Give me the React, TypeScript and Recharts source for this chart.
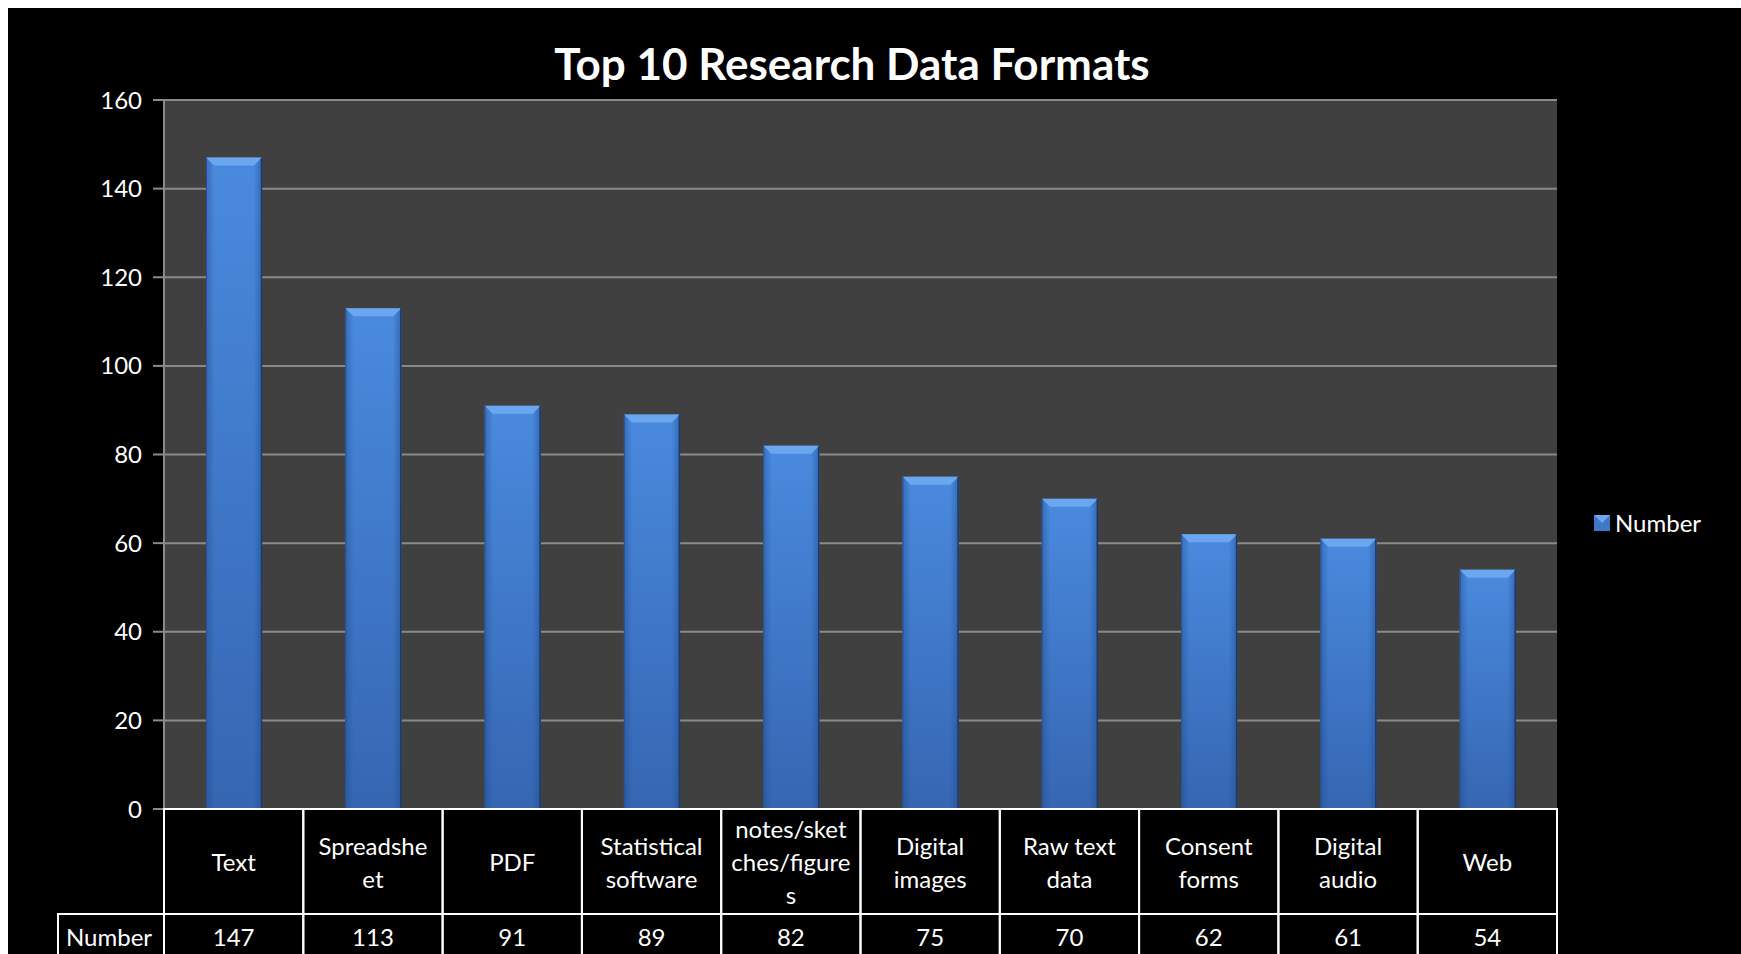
import { BarChart, Bar, XAxis, YAxis, CartesianGrid } from "recharts";

const categories = [
  "Text",
  "Spreadsheet",
  "PDF",
  "Statistical software",
  "notes/sketches/figures",
  "Digital images",
  "Raw text data",
  "Consent forms",
  "Digital audio",
  "Web",
];
// labels as they wrap inside the data table cells
const tickLines = [
  ["Text"],
  ["Spreadshe", "et"],
  ["PDF"],
  ["Statistical", "software"],
  ["notes/sket", "ches/figure", "s"],
  ["Digital", "images"],
  ["Raw text", "data"],
  ["Consent", "forms"],
  ["Digital", "audio"],
  ["Web"],
];
const values = [147, 113, 91, 89, 82, 75, 70, 62, 61, 54];
const yTicks = [0, 20, 40, 60, 80, 100, 120, 140, 160];
const seriesName = "Number";

const data = categories.map((name, i) => ({ name, value: values[i] }));

const W = 1733;
const H = 946;
const M = { top: 92, right: 184, left: 0, bottom: 0 };
const Y_W = 156;
const X_H = 145;
const PLOT_BOTTOM = H - X_H;
const BAND = (W - M.right - Y_W) / categories.length;
const ROW1 = 105;
const FONT = "Lato, 'Open Sans', sans-serif";
const FS = 24;

const CellTick = (props: any) => {
  const { x, payload } = props;
  const i = payload.index;
  const left = x - BAND / 2;
  const lines = tickLines[i];
  const mid = PLOT_BOTTOM + ROW1 / 2;
  const lh = 33;
  const y0 = mid - ((lines.length - 1) * lh) / 2;
  return (
    <g fontFamily={FONT} fontSize={FS} fill="#fff">
      <rect x={left} y={PLOT_BOTTOM} width={BAND} height={ROW1} fill="none" stroke="#fff" strokeWidth={2} />
      <rect x={left} y={PLOT_BOTTOM + ROW1} width={BAND} height={60} fill="none" stroke="#fff" strokeWidth={2} />
      {lines.map((t, k) => (
        <text key={k} x={x} y={y0 + k * lh} textAnchor="middle" dominantBaseline="central">
          {t}
        </text>
      ))}
      <text x={x} y={PLOT_BOTTOM + ROW1 + 22} textAnchor="middle" dominantBaseline="central">
        {values[i]}
      </text>
      {i === 0 && (
        <g>
          <rect x={50} y={PLOT_BOTTOM + ROW1} width={left - 50} height={60} fill="none" stroke="#fff" strokeWidth={2} />
          <text x={58} y={PLOT_BOTTOM + ROW1 + 22} dominantBaseline="central">
            {seriesName}
          </text>
        </g>
      )}
    </g>
  );
};

const BevelBar = (props: any) => {
  const { x, y, width, height } = props;
  if (!height || height <= 0) return null;
  const b = 8;
  return (
    <g>
      <rect x={x} y={y} width={width} height={height} fill="url(#barV)" />
      <rect x={x} y={y} width={width} height={height} fill="url(#barH)" />
      <polygon
        points={`${x},${y} ${x + width},${y} ${x + width - b},${y + b} ${x + b},${y + b}`}
        fill="#6aa7ee"
      />
      <line x1={x + 0.5} y1={y} x2={x + 0.5} y2={y + height} stroke="#2a5290" strokeWidth={1} />
      <line x1={x + width - 0.5} y1={y} x2={x + width - 0.5} y2={y + height} stroke="#1c3a6b" strokeWidth={1.5} />
    </g>
  );
};

export default function App() {
  return (
    <div style={{ position: "fixed", left: 8, top: 8, width: W, height: H, background: "#000", overflow: "hidden" }}>
      <div
        style={{
          position: "absolute",
          left: 0,
          width: 1688,
          top: 28,
          textAlign: "center",
          fontFamily: FONT,
          fontWeight: 700,
          fontSize: 44,
          color: "#fff",
          lineHeight: "54px",
        }}
      >
        Top 10 Research Data Formats
      </div>
      <div
        style={{
          position: "absolute",
          left: 1586,
          top: 500,
          display: "flex",
          alignItems: "center",
          fontFamily: FONT,
          fontSize: FS,
          color: "#fff",
        }}
      >
        <svg width={16} height={16} style={{ marginRight: 5 }}>
          <rect x={0} y={0} width={16} height={16} fill="#3f78c8" />
          <polygon points="0,0 16,0 8,8" fill="#6aa7ee" />
        </svg>
        {seriesName}
      </div>
      <BarChart width={W} height={H} data={data} margin={M} barCategoryGap="0%">
        <defs>
          <linearGradient id="barV" x1="0" y1="0" x2="0" y2="1">
            <stop offset="0%" stopColor="#4a8ade" />
            <stop offset="100%" stopColor="#3566b2" />
          </linearGradient>
          <linearGradient id="barH" x1="0" y1="0" x2="1" y2="0">
            <stop offset="0%" stopColor="#1e4a8a" stopOpacity={0.45} />
            <stop offset="15%" stopColor="#1e4a8a" stopOpacity={0} />
            <stop offset="85%" stopColor="#1e4a8a" stopOpacity={0} />
            <stop offset="100%" stopColor="#1e4a8a" stopOpacity={0.5} />
          </linearGradient>
        </defs>
        <CartesianGrid vertical={false} stroke="#8a8a8a" strokeWidth={2} fill="#404040" />
        <XAxis
          dataKey="name"
          height={X_H}
          axisLine={false}
          tickLine={false}
          interval={0}
          tick={<CellTick />}
        />
        <YAxis
          width={Y_W}
          domain={[0, 160]}
          ticks={yTicks}
          interval={0}
          axisLine={{ stroke: "#8a8a8a", strokeWidth: 2 }}
          tickLine={{ stroke: "#8a8a8a", strokeWidth: 2 }}
          tickSize={11}
          tickMargin={11}
          tick={{ fill: "#fff", fontSize: FS, fontFamily: FONT }}
        />
        <Bar
          dataKey="value"
          name={seriesName}
          barSize={56}
          shape={<BevelBar />}
          isAnimationActive={false}
        />
      </BarChart>
    </div>
  );
}
